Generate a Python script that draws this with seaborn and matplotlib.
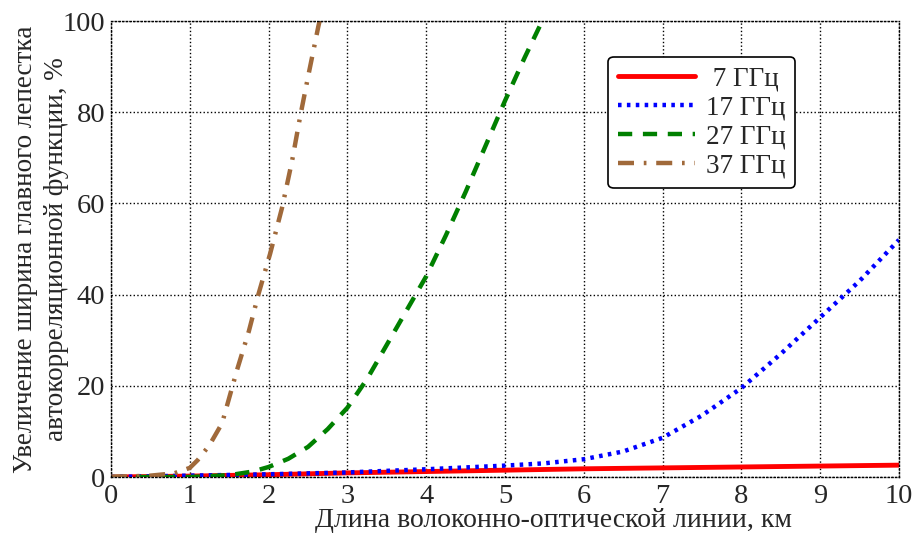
import pandas as pd
import seaborn as sns
import matplotlib.pyplot as plt

# Values (length, km -> increase, %)
x_7 = [0, 1, 2, 3, 4, 5, 6, 7, 8, 9, 10]
y_7 = [0, 0.2, 0.5, 0.9, 1.2, 1.5, 1.8, 2.0, 2.2, 2.4, 2.6]

x_17 = [0, 1, 2, 3, 4, 5, 5.5, 6, 6.5, 7, 7.5, 8, 8.5, 9, 9.5, 10]
y_17 = [0, 0.3, 0.6, 1.0, 1.7, 2.5, 3.0, 3.9, 5.6, 8.6, 13.5, 19.5, 27, 35, 43, 52]

x_27 = [0, 0.5, 1, 1.5, 1.8, 2, 2.25, 2.5, 2.75, 3, 3.25, 3.5, 3.75, 4, 4.25, 4.5, 4.75, 5, 5.25, 5.5]
y_27 = [0, 0, 0, 0.4, 1.2, 2.2, 4.0, 6.6, 10.5, 15.2, 21.5, 29, 36.5, 44, 53, 62.5, 72.5, 82.5, 92, 101]

x_37 = [0, 0.5, 0.8, 1.0, 1.1, 1.25, 1.41, 1.6, 1.75, 1.87, 2.02, 2.17, 2.3, 2.4, 2.5, 2.63, 2.7]
y_37 = [0, 0.3, 0.8, 2.0, 3.7, 7.0, 11.8, 23.5, 32, 40, 49, 59, 69.5, 79, 87.7, 98.7, 104]

labels = [' 7 ГГц', '17 ГГц', '27 ГГц', '37 ГГц']
colors = ['#ff0000', '#0000ff', '#008000', '#a0693a']

series = [(x_7, y_7), (x_17, y_17), (x_27, y_27), (x_37, y_37)]
frames = []
for lab, (xs, ys) in zip(labels, series):
    frames.append(pd.DataFrame({'x': xs, 'y': ys, 'f': lab}))
df = pd.concat(frames, ignore_index=True)

sns.set_style("white")
plt.rcParams['font.family'] = ['Liberation Serif', 'DejaVu Serif']

fig = plt.figure(figsize=(9.15, 5.35), dpi=100)
ax = fig.add_axes([0.1213, 0.1084, 0.8612, 0.8523])

styles = [
    dict(linestyle='-', linewidth=3.5),
    dict(linestyle=(0, (0.8, 1.2)), linewidth=3.2),
    dict(linestyle=(0, (3.2, 2.4)), linewidth=3.2),
    dict(linestyle=(0, (3.6, 2.2, 0.6, 2.2)), linewidth=3.2),
]
for lab, col, st in zip(labels, colors, styles):
    sub = df[df['f'] == lab]
    sns.lineplot(data=sub, x='x', y='y', ax=ax, color=col, label=lab,
                 estimator=None, sort=False, **st)

ax.set_xlim(0, 10)
ax.set_ylim(0, 100)
ax.set_xticks(range(0, 11))
ax.set_yticks(range(0, 101, 20))
ax.grid(True, color='black', linestyle=':', linewidth=1.0)
for s in ax.spines.values():
    s.set_linestyle(':')
    s.set_color('black')
    s.set_linewidth(1.0)
ax.tick_params(length=0, labelsize=20.5)
ax.tick_params(axis='y', pad=4)
ax.tick_params(axis='x', pad=5)

ax.set_xlabel('Длина волоконно-оптической линии, км', fontsize=20)
ax.xaxis.set_label_coords(0.561, -0.068)
ax.set_ylabel('Увеличение ширина главного лепестка\nавтокорреляционной функции, %',
              fontsize=19.5, linespacing=1.32)
ax.yaxis.set_label_coords(-0.053, 0.5)

leg = ax.legend(loc='upper right', bbox_to_anchor=(0.868, 0.921), fontsize=19.5,
                frameon=True, fancybox=True, edgecolor='black', framealpha=1,
                handlelength=2.85, handletextpad=0.4, labelspacing=0.15,
                borderpad=0.35, borderaxespad=0)
leg.get_frame().set_linewidth(1.2)

fig.savefig('out.png', dpi=100)
